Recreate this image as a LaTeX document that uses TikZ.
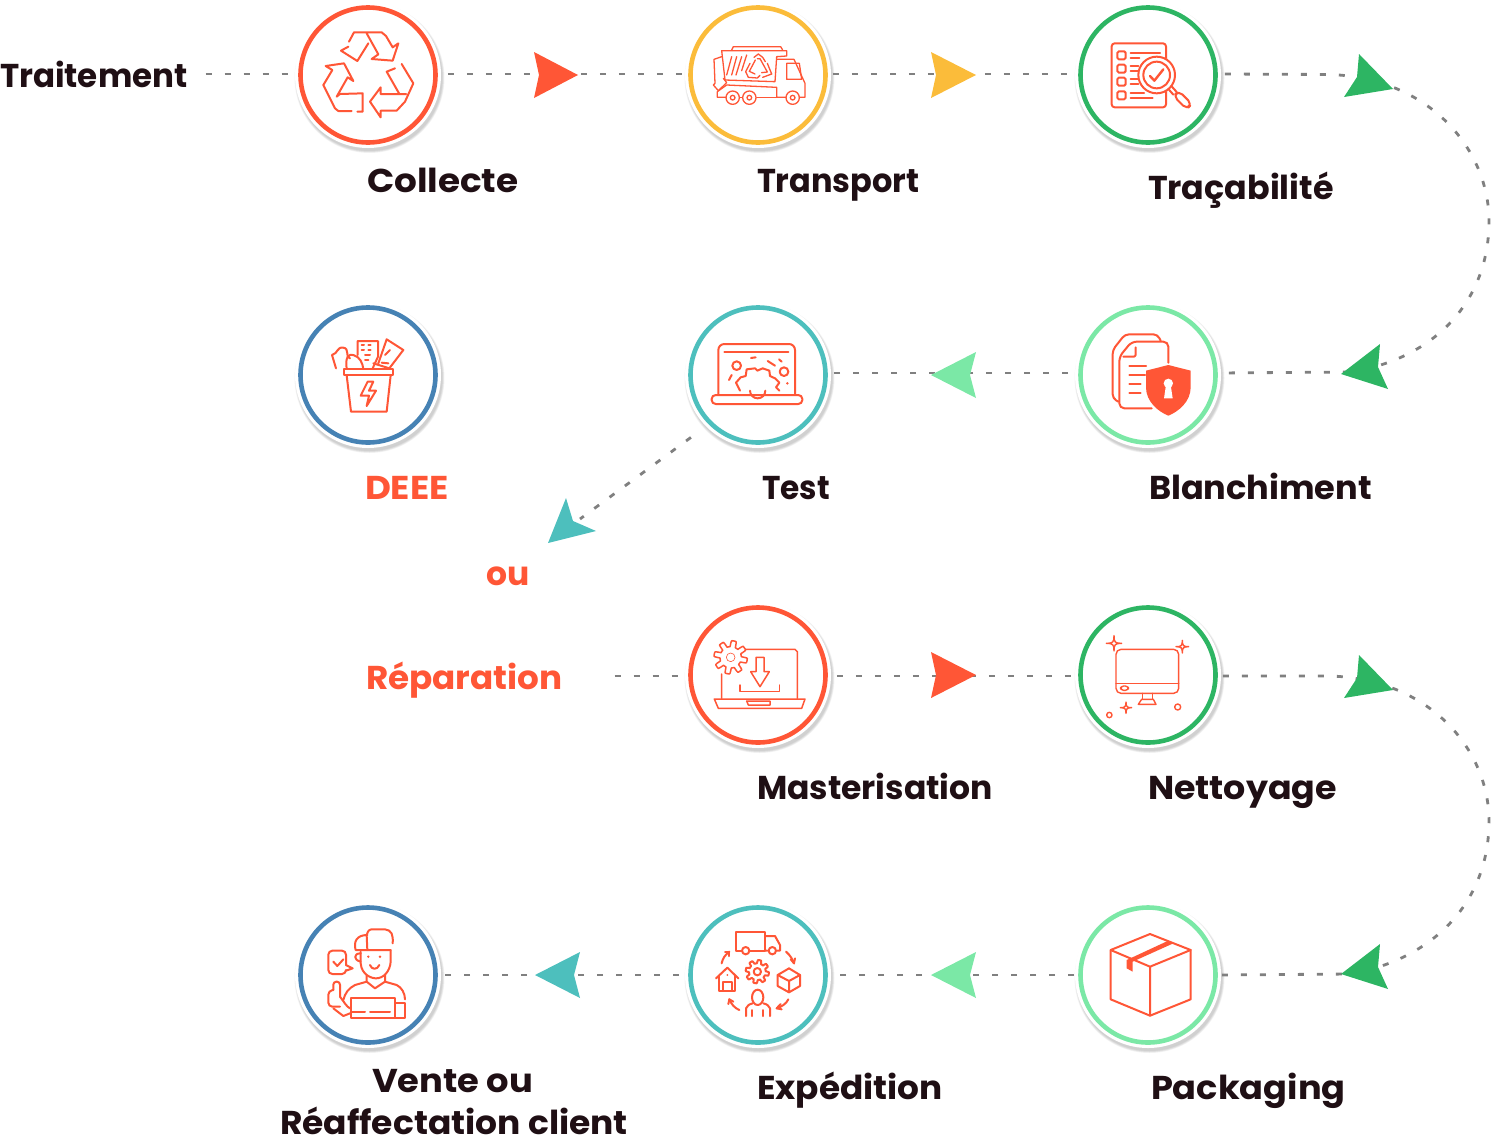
\documentclass[tikz,border=0pt]{standalone}
\usepackage{graphicx}
\usepackage{fontspec}
\setmainfont{Poppins}
\definecolor{ic}{HTML}{FF5636}
\definecolor{cred}{HTML}{FF5636}
\definecolor{cyel}{HTML}{FBBC3A}
\definecolor{cgrn}{HTML}{2DB563}
\definecolor{clgr}{HTML}{7BE8A6}
\definecolor{ctea}{HTML}{4DBFBD}
\definecolor{cblu}{HTML}{4682B4}
\definecolor{ctxt}{HTML}{1F0F14}
\definecolor{cdash}{HTML}{808080}
\tikzset{
  ring/.style={circle,draw=#1,line width=4.6pt,fill=white,minimum size=135pt,inner sep=0pt,outer sep=2.3pt},
  lab/.style={anchor=base west,inner sep=0pt,outer sep=0pt,text=ctxt,font=\fontsize{33}{38}\selectfont\bfseries},
  olab/.style={lab,text=cred},
  link/.style={draw=cdash,line width=2.8pt,dash pattern=on 6pt off 13pt},
  zm/.style 2 args={shift={(#1,#2)},x=.33333pt,y=-.33333pt,color=ic,line width=2pt,line cap=round,line join=round}
}
\newcommand{\sx}[2]{\scalebox{#1}[1]{#2}}
\newcommand{\stage}[4]{%
  \foreach \rr in {75,74.5,74,73.5,73}{\fill[black,opacity=.04] (#2+1.5,#3+3) circle[radius=\rr];}
  \fill[white] (#2,#3) circle[radius=73];
  \node[ring=#4] (#1) at (#2,#3) {};}
\newcommand{\gearshape}[5]{\draw plot[domain=0:360,samples=181] ({#1+(#3+#4*max(-1,min(1,2.5*sin(#5*\x))))*cos(\x)},{#2+(#3+#4*max(-1,min(1,2.5*sin(#5*\x))))*sin(\x)});}
\newcommand{\sparkle}[3]{\draw (#1+#3,#2) .. controls (#1+3,#2) and (#1,#2+3) .. (#1,#2+#3) .. controls (#1,#2+3) and (#1-3,#2) .. (#1-#3,#2) .. controls (#1-3,#2) and (#1,#2-3) .. (#1,#2-#3) .. controls (#1,#2-3) and (#1+3,#2) .. cycle;}
\begin{document}
\begin{tikzpicture}[x=1pt,y=-1pt]
\useasboundingbox (0,0) rectangle (1491,1138);
% stages
\stage{collecte}{368}{75}{cred}
\stage{transport}{758}{75}{cyel}
\stage{traca}{1148}{75}{cgrn}
\stage{deee}{368}{375}{cblu}
\stage{test}{758}{375}{ctea}
\stage{blanch}{1148}{375}{clgr}
\stage{master}{758}{675}{cred}
\stage{nettoy}{1148}{675}{cgrn}
\stage{vente}{368}{975}{cblu}
\stage{exped}{758}{975}{ctea}
\stage{packag}{1148}{975}{clgr}
% labels
\node[lab] (ltrait) at (0,87) {\sx{.985}{Traitement}};
\node[lab] at (367,192) {\sx{1.085}{Collecte}};
\node[lab] at (757,192) {\sx{.97}{Transport}};
\node[lab] at (1148,199) {\sx{1.01}{Traçabilité}};
\node[olab] at (365,499) {\sx{1.08}{DEEE}};
\node[lab] at (762,499) {\sx{.945}{Test}};
\node[lab] at (1149,499) {\sx{1.018}{Blanchiment}};
\node[olab] at (486,585) {ou};
\node[olab] (lrep) at (366,689) {\sx{1.037}{Réparation}};
\node[lab] at (757,799) {Masterisation};
\node[lab] at (1148,799) {\sx{1.056}{Nettoyage}};
\node[lab] at (372,1092) {\sx{1.07}{Vente ou}};
\node[lab] at (280,1134) {\sx{1.045}{Réaffectation client}};
\node[lab] at (757,1099) {\sx{1.04}{Expédition}};
\node[lab] at (1151,1099) {\sx{1.066}{Packaging}};
% connectors
\coordinate (reptip) at (580,519);
\coordinate (bendA) at (1330,74.5);
\coordinate (bendB) at (1350,372);
\coordinate (bendC) at (1330,676);
\coordinate (bendD) at (1350,974);
\draw[link,shorten >=8pt,shorten <=18pt] ([yshift=1pt]ltrait.east |- collecte.west) -- ([yshift=1pt]collecte.west);
\draw[link,shorten >=5pt,shorten <=10pt] ([yshift=1pt]collecte.east) -- ([yshift=1pt]transport.west);
\draw[link,shorten >=8pt,shorten <=5pt] ([yshift=1pt]transport.east) -- ([yshift=1pt]traca.west);
\draw[link,shorten >=6pt,shorten <=10pt] ([yshift=2pt]blanch.west) -- ([yshift=2pt]test.east);
\draw[link,shorten <=22pt] (test.225) -- (reptip);
\draw[link,shorten <=52pt,shorten >=8pt] ([yshift=-1pt]lrep.east |- master.west) -- ([yshift=-1pt]master.west);
\draw[link,shorten <=9pt,shorten >=4pt] ([yshift=-1pt]master.east) -- ([yshift=-1pt]nettoy.west);
\draw[link,shorten <=4pt,shorten >=4pt] (packag.west) -- (exped.east);
\draw[link,shorten <=9pt,shorten >=4pt] (exped.west) -- (vente.east);
\draw[link] ([xshift=7pt,yshift=1pt]traca.east) -- (bendA) .. controls (1430,78) and (1489,150) .. (1489,221) .. controls (1489,305) and (1430,360) .. (bendB);
\draw[link,shorten <=11pt] ([yshift=2pt]blanch.east) -- (bendB);
\draw[link] ([xshift=5pt,yshift=-1pt]nettoy.east) -- (bendC) .. controls (1430,679) and (1489,750) .. (1489,821) .. controls (1489,905) and (1430,960) .. (bendD);
\draw[link,shorten <=4pt] (packag.east) -- (bendD);
% arrowheads
\fill[cred] (578,75) -- (534,52) -- (539,75) -- (534,98) -- cycle;
\fill[cyel] (976,75) -- (931,52) -- (936,75) -- (931,98) -- cycle;
\fill[cgrn] (1393,89) -- (1359,54) -- (1357,77) -- (1344,97) -- cycle;
\fill[cgrn] (1341,374) -- (1380,344) -- (1378,367) -- (1388,389) -- cycle;
\fill[clgr] (931,375) -- (976,352) -- (970,375) -- (976,398) -- cycle;
\fill[ctea] (548,543) -- (566,498) -- (573,521) -- (596,531) -- cycle;
\fill[cred] (976,675) -- (931,652) -- (936,675) -- (931,698) -- cycle;
\fill[cgrn] (1393,690) -- (1359,655) -- (1357,678) -- (1344,698) -- cycle;
\fill[cgrn] (1341,974) -- (1380,944) -- (1378,967) -- (1388,989) -- cycle;
\fill[clgr] (931,975) -- (976,952) -- (970,975) -- (976,998) -- cycle;
\fill[ctea] (535,975) -- (580,952) -- (574,975) -- (580,998) -- cycle;
% icon: recycle
\begin{scope}[zm={280}{0}]
\draw (207,125) -- (222,97) -- (305,97) -- (318,108) -- (338,142) -- (355,130) -- (338,182) -- (275,177) -- (295,163) -- (260,100);
\draw (205,140) -- (183,152) -- (232,183) -- (265,130);
\draw (215,333) -- (175,333) -- (165,325) -- (130,255) -- (157,210) -- (137,198) -- (192,190) -- (220,243) -- (203,232) -- (170,290) -- (180,282) -- (248,280) -- (248,335) -- (232,335);
\draw (365,192) -- (400,250) -- (375,305) -- (350,332) -- (302,332) -- (302,352) -- (270,305) -- (302,262) -- (302,282) -- (378,282);
\draw (345,205) -- (320,215) -- (357,280);
\end{scope}
% icon: truck
\begin{scope}[zm={680}{0},line width=1.3pt]
\draw (155,150) -- (160,140) -- (302,140) -- (308,150);
\draw (135,240) -- (125,152) -- (320,152) -- (320,168) -- (290,170) -- (285,245) -- cycle;
\draw (155,170) -- (140,225) (170,170) -- (155,225) (185,170) -- (168,225) (200,165) -- (185,212);
\draw (125,170) -- (102,178) -- (105,250) -- (100,255) -- (115,272) -- (140,248) -- (130,235);
\draw (138,292) -- (112,292) -- (112,275) -- (140,255) -- (290,262) -- (290,292) -- (318,292);
\draw (230,292) -- (290,292) (180,292) -- (186,292);
\draw (290,178) -- (342,178) -- (375,250) -- (375,292) -- (358,292);
\draw (320,190) -- (358,190) -- (365,238) -- (320,238) -- cycle;
\foreach \wx in {158,208,338}{\draw (\wx,293) circle[radius=20] (\wx,293) circle[radius=7];}
% small recycling loop
\draw (222,172) -- (235,162) -- (248,172) -- (256,185);
\draw (262,190) -- (275,222) -- (248,232);
\draw (240,226) -- (232,234) -- (205,232) -- (197,215) -- (210,190);
\draw (232,176) -- (240,176) -- (262,216) -- (245,218);
\draw (226,180) -- (208,214) -- (225,222);
\end{scope}
% icon: checklist
\begin{scope}[zm={1070}{0}]
\draw[rounded corners=3pt] (125,130) rectangle (288,322);
\foreach \cy in {166,206,245,286}{\draw[rounded corners=1.5pt] (142,\cy-12) rectangle (167,\cy+12);}
\draw (182,158) -- (270,158) (182,173) -- (208,173) (182,198) -- (205,198) (182,213) -- (205,213) (182,238) -- (205,238) (182,253) -- (205,253) (182,278) -- (222,278) (182,294) -- (248,294);
\fill[white] (260,225) circle[radius=57];
\draw (260,225) circle[radius=55] (260,225) circle[radius=40];
\draw[line width=2.4pt] (240,228) -- (253,242) -- (280,208);
\draw (304,258) -- (320,276) (296,268) -- (310,284);
\draw[fill=white,rotate around={-45:(338,300)},rounded corners=5pt] (310,289) rectangle (366,311);
\end{scope}
% icon: bucket
\begin{scope}[zm={290}{300}]
\draw (163,208) rectangle (308,226);
\draw (170,226) -- (183,335) -- (290,335) -- (302,226);
\draw (233,245) -- (212,287) -- (237,287) -- (230,318) -- (258,272) -- (237,272) -- (250,245) -- cycle;
\draw (138,205) -- (126,165) .. controls (145,160) and (140,140) .. (160,143) .. controls (180,145) and (165,175) .. (180,175);
\draw (170,205) .. controls (165,175) and (175,160) .. (190,165) .. controls (210,170) and (218,190) .. (220,207);
\draw (203,165) -- (203,123) -- (264,123) -- (264,170) -- (248,205);
\draw (215,135) -- (222,135) (235,135) -- (242,135) (215,150) -- (222,150) (235,150) -- (242,150) (225,165) -- (240,165) (225,180) -- (235,180);
\draw (265,190) -- (290,118) -- (340,150) -- (298,205) -- (250,190);
\draw (285,165) -- (300,150) (275,188) -- (295,190);
\end{scope}
% icon: laptop with gear
\begin{scope}[zm={680}{300}]
\draw[rounded corners=6pt] (115,283) -- (115,132) -- (345,132) -- (345,283);
\draw (133,156) -- (325,156);
\draw[rounded corners=4pt] (95,285) rectangle (367,312);
\draw (170,197) circle[radius=13] (312,215) circle[radius=13];
\draw (210,272) arc[start angle=180,end angle=0,radius=23];
\draw (180,272) -- (168,248) -- (182,232) -- (197,228) -- (200,208) -- (225,205) -- (232,212) -- (248,205) -- (268,212) -- (270,228) -- (285,235) -- (298,248) -- (288,262) -- (298,272);
\draw (147,240) -- (155,225) (213,174) -- (227,172) (263,183) -- (285,197) (297,178) -- (305,185);
\fill (322,250) circle[radius=4];
\end{scope}
% icon: documents and shield
\begin{scope}[zm={1070}{300}]
\draw[rounded corners=4pt] (145,305) -- (128,295) -- (128,150) -- (165,103) -- (262,103) -- (272,122);
\draw[rounded corners=5pt] (295,188) -- (295,125) -- (185,125) -- (148,170) -- (148,325) -- (245,325);
\draw[rounded corners=2pt] (197,142) -- (197,170) -- (160,170);
\draw (178,197) -- (228,197) (178,225) -- (225,225) (178,252) -- (212,252) (178,278) -- (212,278);
\fill (228,212) -- (295,195) -- (362,212) -- (362,262) .. controls (362,305) and (325,335) .. (295,347) .. controls (265,335) and (228,305) .. (228,262) -- cycle;
\fill[white] (295,250) circle[radius=14] (288,255) -- (302,255) -- (308,295) -- (282,295) -- cycle;
\end{scope}
% icon: laptop download
\begin{scope}[zm={680}{600},line width=1.5pt]
\draw (125,295) -- (125,222) (195,148) -- (345,148) -- (352,155) -- (352,295);
\draw (103,297) -- (375,297) -- (365,325) -- (115,325) -- cycle;
\draw (200,303) -- (270,303) -- (270,315) -- (205,315) -- cycle;
\fill[white] (152,172) circle[radius=50];
\gearshape{152}{172}{41}{9}{8}
\draw[line width=.6pt] (152,172) circle[radius=13];
\draw (228,172) -- (252,172) -- (252,215) -- (268,215) -- (240,260) -- (212,215) -- (228,215) -- cycle;
\draw (180,255) -- (180,275) -- (298,275) -- (298,255);
\end{scope}
% icon: monitor
\begin{scope}[zm={1070}{600},line width=1.4pt]
\draw[rounded corners=5pt] (138,148) rectangle (326,280);
\draw (138,250) -- (326,250);
\draw[rounded corners=3pt] (152,258) rectangle (175,271);
\draw (218,280) -- (218,298) -- (248,298) -- (248,280);
\draw (205,313) -- (215,298) -- (250,298) -- (258,313) -- cycle;
\sparkle{132}{130}{23}
\sparkle{337}{140}{19}
\sparkle{168}{323}{17}
\draw (118,345) circle[radius=8] (323,321) circle[radius=9];
\end{scope}
% icon: person
\begin{scope}[zm={290}{900}]
\draw (212,155) -- (212,190) .. controls (215,225) and (245,235) .. (258,235) .. controls (280,235) and (300,215) .. (302,185) -- (302,150);
\draw (232,150) -- (230,105) .. controls (235,88) and (240,88) .. (250,88) -- (285,88) .. controls (305,90) and (310,105) .. (308,130);
\draw (232,105) .. controls (200,105) and (190,125) .. (197,150) -- (302,150);
\draw (212,160) .. controls (190,160) and (190,180) .. (212,185);
\fill (235,170) circle[radius=4] (270,170) circle[radius=4];
\draw (240,195) .. controls (245,210) and (262,210) .. (268,195);
\draw (230,225) -- (230,245) -- (255,265) -- (285,245) -- (285,225);
\draw (230,245) -- (195,255) .. controls (175,265) and (165,280) .. (160,300);
\draw (285,245) -- (320,255) .. controls (335,262) and (345,280) .. (345,298);
\draw (183,295) -- (315,295) -- (315,355) -- (183,355) -- cycle;
\draw (183,337) -- (225,337) (240,337) -- (300,337);
\draw (315,310) -- (345,310) -- (345,353) -- (315,353);
\draw[rounded corners=4pt] (168,195) -- (168,152) -- (115,152) -- (115,222) -- (168,222) -- (168,212);
\draw (168,195) -- (188,205) -- (168,212);
\draw (130,185) -- (142,198) -- (160,178);
\draw[rounded corners=3pt] (130,270) -- (130,245) -- (150,245) -- (150,290);
\draw[rounded corners=4pt] (130,270) -- (115,272) -- (115,320) -- (150,320);
\draw (150,290) .. controls (165,310) and (170,320) .. (180,325) (180,340) -- (160,348) -- (130,325);
\end{scope}
% icon: logistics
\begin{scope}[zm={680}{900}]
\draw (185,152) -- (168,152) -- (168,95) -- (255,95) -- (255,152) -- (210,152);
\draw (255,108) -- (285,108) -- (300,135) -- (300,152) -- (292,152) (262,152) -- (255,152);
\draw (197,152) circle[radius=11] (277,152) circle[radius=11];
\draw (318,155) .. controls (330,165) and (338,178) .. (342,190);
\draw (332,178) -- (342,190) -- (345,175);
\draw (325,298) .. controls (318,312) and (305,320) .. (290,325);
\draw (302,312) -- (290,325) -- (305,328);
\draw (178,330) .. controls (165,325) and (153,312) .. (148,298);
\draw (145,312) -- (148,298) -- (160,305);
\draw (125,190) .. controls (128,175) and (135,165) .. (148,155);
\draw (135,155) -- (148,155) -- (148,168);
\gearshape{232}{215}{30}{5}{8}
\draw (232,215) circle[radius=11];
\draw (327,205) -- (360,225) -- (360,258) -- (327,277) -- (293,258) -- (293,225) -- cycle;
\draw (293,225) -- (327,243) -- (360,225) (327,243) -- (327,277);
\draw (108,235) -- (142,203) -- (175,235);
\draw (118,228) -- (118,272) -- (165,272) -- (165,228);
\draw (128,272) -- (128,245) -- (155,245) -- (155,272);
\fill (142,225) circle[radius=3];
\draw (233,292) ellipse[x radius=17,y radius=23];
\draw (198,348) -- (198,325) .. controls (200,318) and (208,312) .. (218,310);
\draw (270,348) -- (270,325) .. controls (268,318) and (260,312) .. (250,310);
\draw (215,330) -- (215,348) (250,330) -- (250,348);
\end{scope}
% icon: box
\begin{scope}[zm={1070}{900}]
\draw (122,150) -- (240,102) -- (362,150) -- (362,298) -- (240,347) -- (122,298) -- cycle;
\draw (122,150) -- (240,200) -- (362,150) (240,200) -- (240,347);
\fill (170,180) -- (295,122) -- (310,130) -- (188,185) -- (188,215) -- (170,205) -- cycle;
\end{scope}
\end{tikzpicture}
\end{document}
